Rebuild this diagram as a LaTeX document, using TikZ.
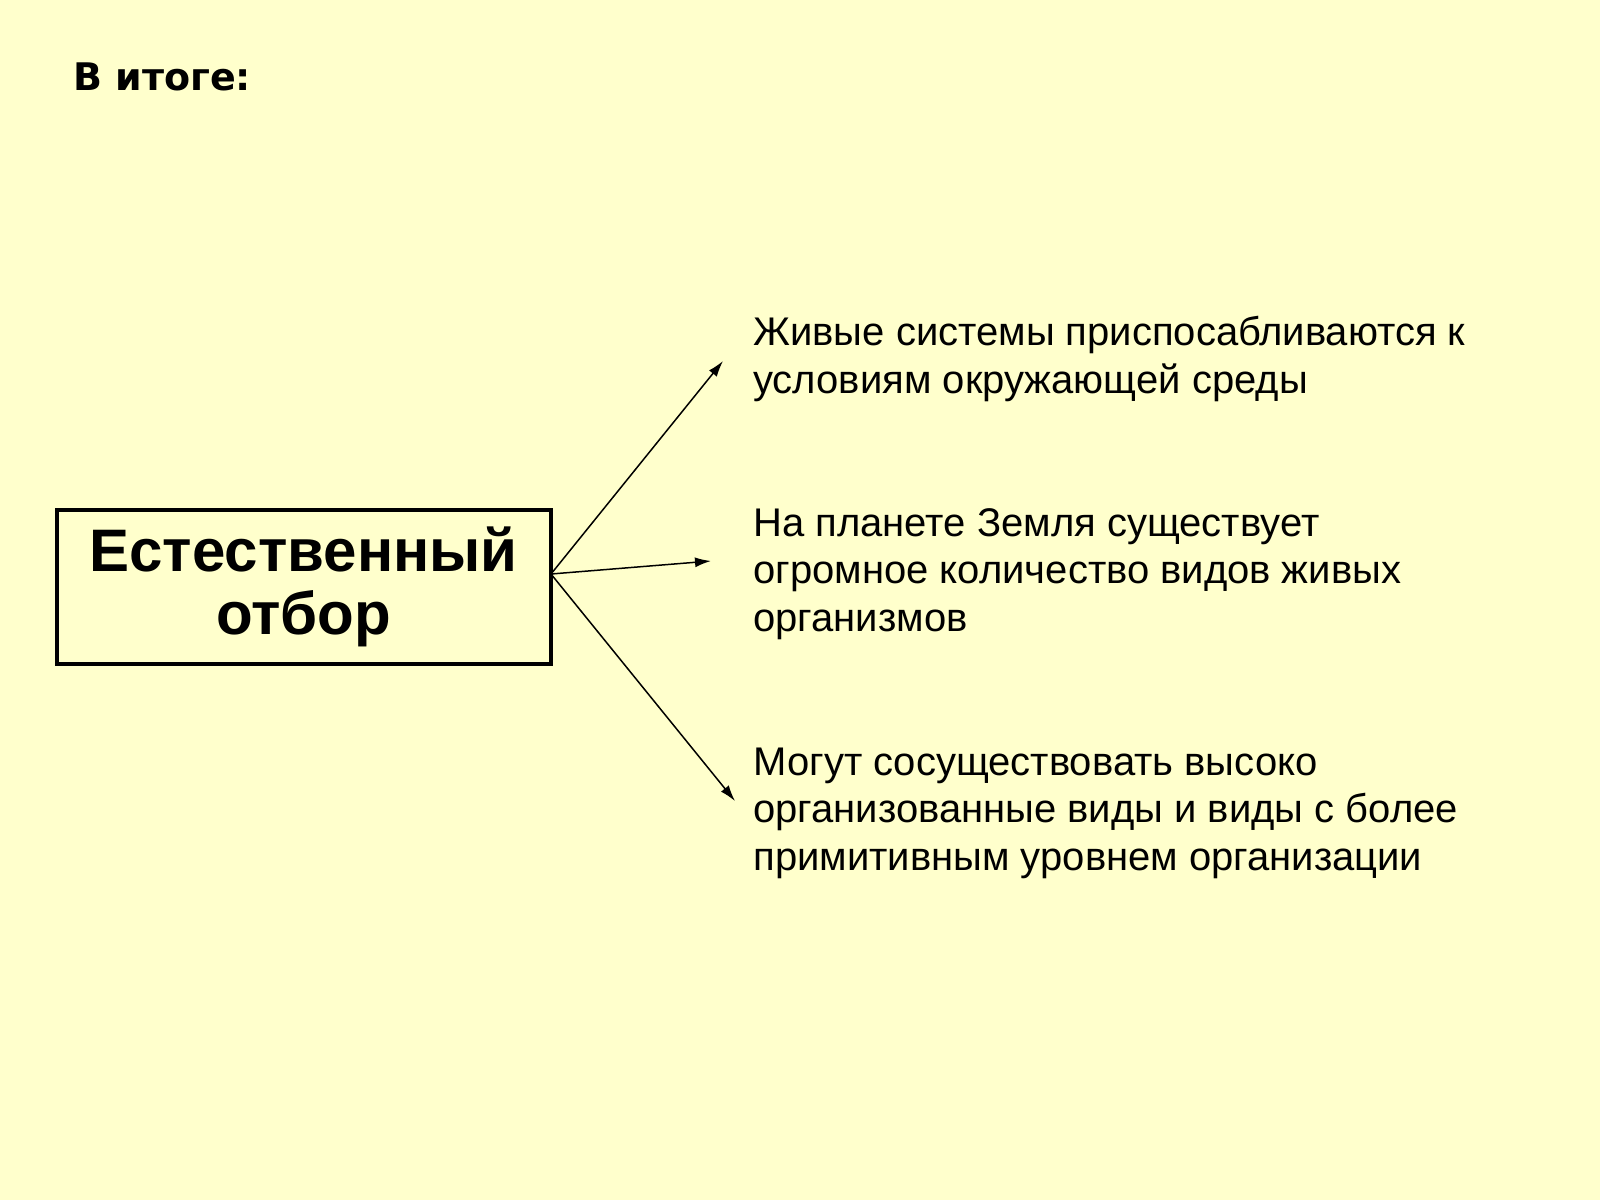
\documentclass[tikz,border=0pt]{standalone}
\usepackage{fontspec}
\setmainfont{Liberation Sans}
\newfontfamily\headfont{DejaVu Sans}
\usetikzlibrary{arrows.meta}
\definecolor{slidebg}{HTML}{FFFFCC}

\begin{document}
\begin{tikzpicture}[x=0.5pt, y=-0.5pt,
    sel/.style={draw, line width=2pt, minimum width=247pt, minimum height=77pt,
        inner sep=0pt, align=center, font=\bfseries\fontsize{30}{31.5}\selectfont},
    res/.style={anchor=base west, inner sep=0pt, align=left,
        font=\fontsize{20}{23.75}\selectfont},
    branch/.style={-{Latex[length=8pt, width=5pt]}, line width=0.75pt}]
    % Background
    \fill[slidebg] (0,0) rectangle (1600,1200);
    \useasboundingbox (0,0) rectangle (1600,1200);

    % Heading
    \node[anchor=base west, inner sep=0pt, font=\headfont\bfseries\fontsize{19}{22}\selectfont] (head) at (73,90) {В итоге:};

    % Box
    \node[sel] (sel) at (303.5,587) {Естественный\\отбор};

    % Results (anchored at the last line)
    \node[res] (res1) at (753,393) {Живые системы приспосабливаются к\\условиям окружающей среды};
    \node[res] (res2) at (753,631) {На планете Земля существует\\огромное количество видов живых\\организмов};
    \node[res] (res3) at (753,870) {Могут сосуществовать высоко\\организованные виды и виды с более\\примитивным уровнем организации};

    % Arrows
    \coordinate (fork) at (551,574);
    \coordinate (tip1) at (723,361);
    \coordinate (tip2) at (711,561);
    \coordinate (tip3) at (735,801);
    \draw[branch] (fork) -- (tip1);
    \draw[branch] (fork) -- (tip2);
    \draw[branch] (fork) -- (tip3);
\end{tikzpicture}
\end{document}
